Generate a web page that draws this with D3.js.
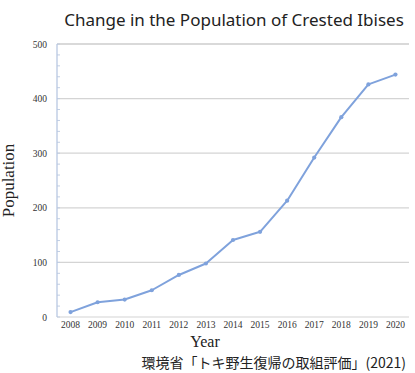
<!DOCTYPE html>
<html>
<head>
<meta charset="utf-8">
<title>Crested Ibis population</title>
<script src="https://d3js.org/d3.v7.min.js"></script>
<style>
  body { margin: 0; background: #fff; }
</style>
</head>
<body>
<div id="chart"></div>
<script>
const years = ['2008', '2009', '2010', '2011', '2012', '2013', '2014', '2015', '2016', '2017', '2018', '2019', '2020'];
const population = [9, 27, 32, 49, 77, 98, 141, 156, 213, 292, 366, 426, 444];
const yTicks = [0, 100, 200, 300, 400, 500];

const width = 415, height = 373;
const margin = { top: 44, right: 6, bottom: 56, left: 57 };

const svg = d3.select('#chart').append('svg')
  .attr('width', width)
  .attr('height', height);

const x = d3.scaleBand()
  .domain(years)
  .range([margin.left, width - margin.right]);

const y = d3.scaleLinear()
  .domain([0, 500])
  .range([height - margin.bottom, margin.top]);

// gridlines
svg.append('g')
  .selectAll('line')
  .data(yTicks)
  .join('line')
    .attr('x1', margin.left)
    .attr('x2', width - margin.right)
    .attr('y1', d => y(d))
    .attr('y2', d => y(d))
    .attr('stroke', (d, i) => i == yTicks.length - 1 ? '#b4b4b4' : '#d4d4d4')
    .attr('stroke-width', 1.2);

// minor ticks on the y axis
svg.append('g')
  .selectAll('line')
  .data(d3.range(0, 501, 20))
  .join('line')
    .attr('x1', margin.left)
    .attr('x2', margin.left + 3)
    .attr('y1', d => y(d))
    .attr('y2', d => y(d))
    .attr('stroke', '#c2cfe4');

svg.append('line')
  .attr('x1', margin.left).attr('x2', margin.left)
  .attr('y1', y(0)).attr('y2', y(500))
  .attr('stroke', '#b8c8e2')
  .attr('stroke-width', 1.3);

// y axis labels
svg.append('g')
  .call(d3.axisLeft(y).tickValues(yTicks).tickSize(0).tickPadding(0))
  .attr('transform', `translate(${margin.left - 10},0)`)
  .call(g => g.select('.domain').remove())
  .attr('font-family', '"Liberation Serif", "DejaVu Serif", serif')
  .attr('font-size', '9.5px')
  .selectAll('text').attr('fill', '#333');

// x axis labels
svg.append('g')
  .call(d3.axisBottom(x).tickSize(0).tickPadding(0))
  .attr('transform', `translate(0,${y(0) + 4})`)
  .call(g => g.select('.domain').remove())
  .attr('font-family', '"Liberation Serif", "DejaVu Serif", serif')
  .attr('font-size', '9.5px')
  .selectAll('text').attr('fill', '#333');

// line
const line = d3.line()
  .x((d, i) => x(years[i]) + x.bandwidth() / 2)
  .y(d => y(d));

svg.append('path')
  .datum(population)
  .attr('d', line)
  .attr('fill', 'none')
  .attr('stroke', '#7fa2dc')
  .attr('stroke-width', 2)
  .attr('stroke-linejoin', 'round');

svg.append('g')
  .selectAll('circle')
  .data(population)
  .join('circle')
    .attr('cx', (d, i) => x(years[i]) + x.bandwidth() / 2)
    .attr('cy', d => y(d))
    .attr('r', 2.1)
    .attr('fill', '#7fa2dc');

// title
svg.append('text')
  .attr('x', 234)
  .attr('y', 26)
  .attr('text-anchor', 'middle')
  .attr('font-family', '"Noto Sans", "Open Sans", sans-serif')
  .attr('font-size', '17px')
  .attr('fill', '#222')
  .text('Change in the Population of Crested Ibises');

// axis titles
svg.append('text')
  .attr('transform', `translate(14,${(y(0) + y(500)) / 2}) rotate(-90)`)
  .attr('text-anchor', 'middle')
  .attr('font-family', '"Liberation Serif", "DejaVu Serif", serif')
  .attr('font-size', '17px')
  .attr('fill', '#222')
  .text('Population');

svg.append('text')
  .attr('x', 205)
  .attr('y', 347)
  .attr('text-anchor', 'middle')
  .attr('font-family', '"Liberation Serif", "DejaVu Serif", serif')
  .attr('font-size', '16px')
  .attr('fill', '#222')
  .text('Year');

// source
svg.append('text')
  .attr('x', 406)
  .attr('y', 368)
  .attr('text-anchor', 'end')
  .attr('font-family', '"Noto Sans CJK JP", sans-serif')
  .attr('font-size', '14px')
  .attr('fill', '#222')
  .text('環境省「トキ野生復帰の取組評価」(2021)');
</script>
</body>
</html>
